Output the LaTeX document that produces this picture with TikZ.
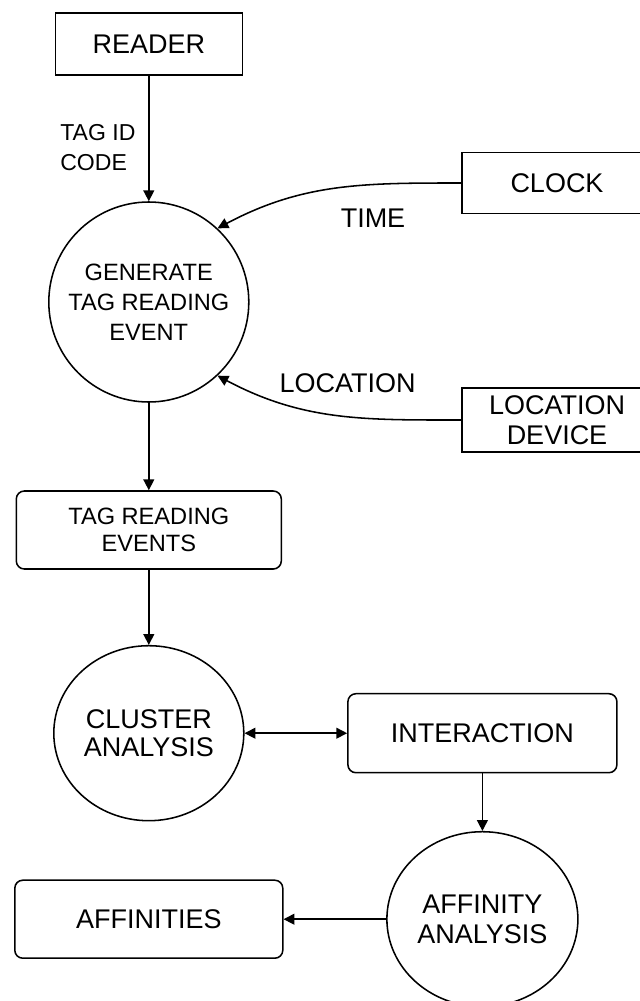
\documentclass[tikz,border=0pt]{standalone}
\usepackage{fontspec}
\setmainfont{Liberation Sans}
\usetikzlibrary{arrows.meta, shapes.geometric}

\newcommand{\bigtxt}{\fontsize{19.2}{21.3}\selectfont}
\newcommand{\smalltxt}{\fontsize{16.4}{21.3}\selectfont}

\tikzset{
    extbox/.style={draw, line width=1.1pt, rectangle, minimum width=4.75cm, font=\bigtxt, align=center},
    storebox/.style={draw, line width=1.1pt, rectangle, rounded corners=0.2cm, align=center},
    bubble/.style={draw, line width=1.1pt, ellipse, inner sep=0pt, align=center},
    flow/.style={line width=1.1pt, -{Triangle[length=0.27cm, width=0.27cm]}},
    twoway/.style={line width=1.1pt, {Triangle[length=0.27cm, width=0.27cm]}-{Triangle[length=0.27cm, width=0.27cm]}},
    lbl/.style={font=\bigtxt, inner sep=0pt}
}

\begin{document}
\begin{tikzpicture}
    \useasboundingbox (0,0) rectangle (16,-25.025);
    \clip (0,0) rectangle (16,-25.025);

    % Sources
    \node[extbox, minimum width=4.675cm, minimum height=1.55cm] (reader) at (3.72,-1.1) {READER};
    \node[extbox, minimum height=1.525cm] (clock) at (13.925,-4.575) {CLOCK};
    \node[extbox, minimum height=1.6cm] (locdev) at (13.925,-10.5) {LOCATION\\DEVICE};

    % Generate process
    \node[bubble, circle, minimum size=5cm, font=\fontsize{16.8}{21.3}\selectfont] (gen) at (3.72,-7.55) {GENERATE\\TAG READING\\EVENT};

    % Store
    \node[storebox, minimum width=6.625cm, minimum height=1.95cm, font=\fontsize{16.8}{19}\selectfont] (events) at (3.72,-13.25) {TAG READING\\EVENTS};

    % Analysis
    \node[bubble, minimum width=4.75cm, minimum height=4.375cm, font=\fontsize{19.2}{20}\selectfont] (cluster) at (3.72,-18.33) {CLUSTER\\ANALYSIS};
    \node[storebox, minimum width=6.725cm, minimum height=1.975cm, font=\bigtxt] (interact) at (12.06,-18.33) {INTERACTION};
    \node[bubble, minimum width=4.775cm, minimum height=4.375cm, font=\bigtxt] (affan) at (12.06,-22.98) {AFFINITY\\ANALYSIS};
    \node[storebox, minimum width=6.7cm, minimum height=1.95cm, font=\bigtxt] (affs) at (3.72,-22.98) {AFFINITIES};

    % Labels
    \node[lbl, font=\smalltxt, anchor=west, align=left] (tagid) at (1.5,-3.69) {TAG ID\\CODE};
    \node[lbl] (time) at (9.325,-5.45) {TIME};
    \node[lbl] (loc) at (8.69,-9.575) {LOCATION};

    % Flows
    \draw[flow] (reader) -- (gen);
    \draw[flow] (clock.west) to[out=180, in=28] (gen.47);
    \draw[flow] (locdev.west) to[out=180, in=-28] (gen.-47);
    \draw[flow] (gen) -- (events);
    \draw[flow] (events) -- (cluster);
    \draw[twoway] (cluster) -- (interact);
    \draw[flow] (interact) -- (affan);
    \draw[flow] (affan) -- (affs);
\end{tikzpicture}
\end{document}
